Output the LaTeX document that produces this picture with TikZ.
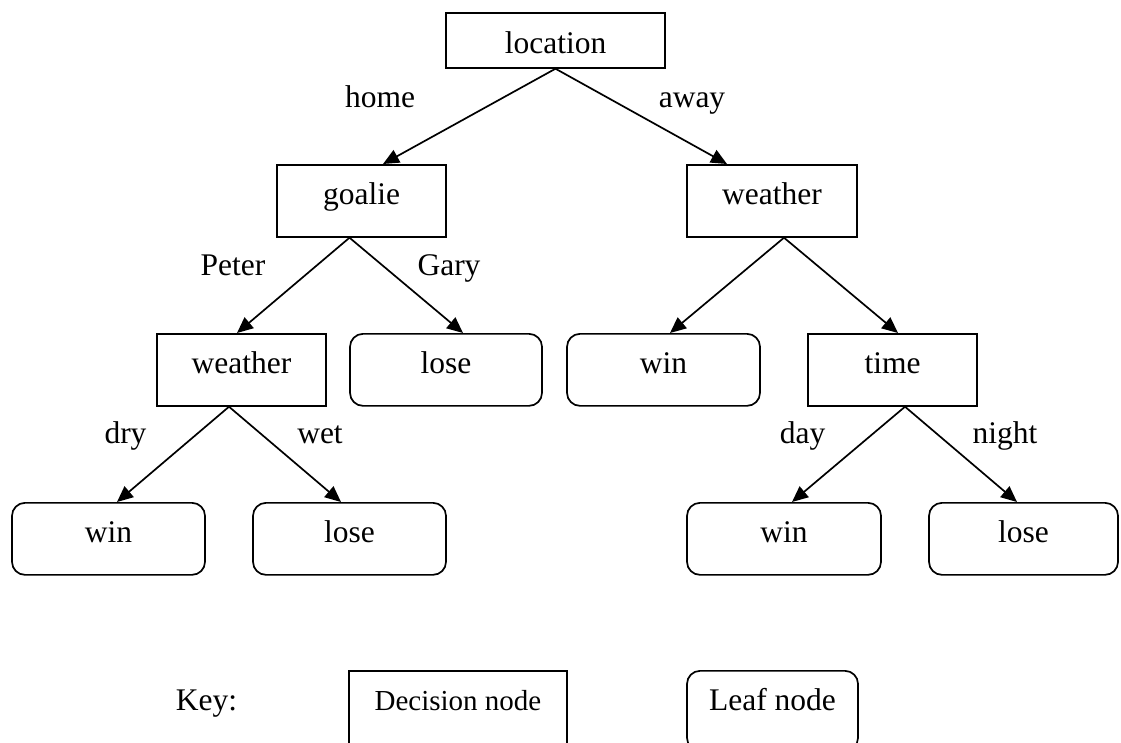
\documentclass[tikz,border=0pt]{standalone}
\usepackage{fontspec}
\setmainfont{Liberation Serif}
\usetikzlibrary{arrows.meta}
\tikzset{
  box/.style={draw, line width=1.7pt, inner sep=0pt, anchor=north,
    text height=40pt, text depth=32pt},
  decbox/.style={box},
  leafbox/.style={box, rounded corners=13pt},
  lbl/.style={anchor=base, inner sep=0pt},
  arr/.style={line width=1.7pt, -{Triangle[length=16pt,width=14pt]}}
}
\begin{document}
\begin{tikzpicture}[x=1pt, y=-1pt, font=\fontsize{31.5pt}{38pt}\selectfont]
\useasboundingbox (0,0) rectangle (1121,742);
\clip (0,0) rectangle (1121,742);
% decision nodes
\node[decbox, minimum width=219pt, text depth=14pt, text height=41pt] (location) at (555.5,12) {location};
\node[decbox, minimum width=169pt] (goalie) at (361.5,164) {goalie};
\node[decbox, minimum width=170pt] (weatherR) at (772,164) {weather};
\node[decbox, minimum width=169pt] (weatherL) at (241.5,333) {weather};
\node[decbox, minimum width=169pt] (time) at (892.5,333) {time};
% leaf nodes
\node[leafbox, minimum width=192pt] (loseM) at (446,333) {lose};
\node[leafbox, minimum width=193pt] (winM) at (663.5,333) {win};
\node[leafbox, minimum width=193pt] (winL) at (108.5,502) {win};
\node[leafbox, minimum width=193pt] (loseL) at (349.5,502) {lose};
\node[leafbox, minimum width=194pt] (winR) at (784,502) {win};
\node[leafbox, minimum width=189pt] (loseR) at (1023.5,502) {lose};
% connectors
\draw[arr] (location.south) -- ([xshift=21.5pt]goalie.north);
\draw[arr] (location.south) -- ([xshift=-45pt]weatherR.north);
\draw[arr] ([xshift=-12pt]goalie.south) -- ([xshift=-4.5pt]weatherL.north);
\draw[arr] ([xshift=-12pt]goalie.south) -- ([xshift=17pt]loseM.north);
\draw[arr] ([xshift=12pt]weatherR.south) -- ([xshift=6.5pt]winM.north);
\draw[arr] ([xshift=12pt]weatherR.south) -- ([xshift=5.5pt]time.north);
\draw[arr] ([xshift=-12.5pt]weatherL.south) -- ([xshift=8.5pt]winL.north);
\draw[arr] ([xshift=-12.5pt]weatherL.south) -- ([xshift=-8.5pt]loseL.north);
\draw[arr] ([xshift=12.5pt]time.south) -- ([xshift=8pt]winR.north);
\draw[arr] ([xshift=12.5pt]time.south) -- ([xshift=-6.5pt]loseR.north);
% edge labels
\node[lbl] (lhome) at (380,107) {home};
\node[lbl] (laway) at (692,107) {away};
\node[lbl] (lpeter) at (233,275) {Peter};
\node[lbl] (lgary) at (449,275) {Gary};
\node[lbl] (ldry) at (125.5,443) {dry};
\node[lbl] (lwet) at (320,443) {wet};
\node[lbl] (lday) at (802.5,443) {day};
\node[lbl] (lnight) at (1005,443) {night};
% key
\node[lbl] (key) at (206.5,710) {Key:};
\node[decbox, minimum width=218pt, text depth=40pt, font=\fontsize{29pt}{35pt}\selectfont] (keydec) at (458,670) {Decision node};
\node[leafbox, minimum width=171pt, text depth=40pt] (keyleaf) at (772.5,670) {Leaf node};
\end{tikzpicture}
\end{document}
